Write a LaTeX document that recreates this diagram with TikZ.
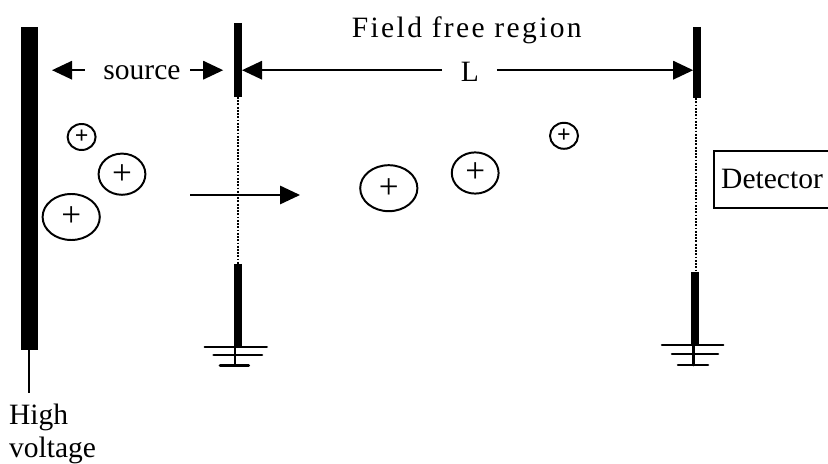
\documentclass[tikz,border=0pt]{standalone}
\usepackage{fontspec}
\setmainfont{Liberation Serif}
\usetikzlibrary{arrows.meta,calc,shapes.geometric}
\begin{document}
\begin{tikzpicture}[every node/.style={font=\fontsize{21}{23}\selectfont}, >={Triangle[length=5mm,width=4.6mm]},
	plate/.style={line width=5.8pt}, gnd/.style={line width=1.8pt, line cap=round}, wire/.style={line width=1.3pt},
	ion/.style={draw, ellipse, line width=1.4pt, inner sep=0pt, minimum width=#1},
	smallion/.style={ion=0.7cm, minimum height=0.65cm, font=\fontsize{17}{17}\bfseries},
	midion/.style={ion=1.17cm, minimum height=1.03cm, font=\fontsize{25}{25}\selectfont},
	bigion/.style={ion=1.43cm, minimum height=1.15cm, font=\fontsize{25}{25}\selectfont}]
	\useasboundingbox (0,0) rectangle (20.7,11.575);
	% high voltage plate
	\fill (0.52,2.825) rectangle (0.95,10.9);
	\coordinate (HVfoot) at (0.725,2.825);
	\coordinate (HVend) at (0.725,1.75);
	\draw[wire] (HVfoot) -- (HVend);
	\node[anchor=north west, align=left, inner sep=0pt] (HV) at (0.22,1.47) {High\\voltage};
	% source grid
	\draw[plate] (5.95,11.0) -- (5.95,9.15);
	\draw[wire, densely dotted] (5.95,9.15) -- (5.95,4.98);
	\draw[plate] (5.95,4.98) -- (5.95,2.9);
	\draw[gnd] (5.12,2.9) -- (6.67,2.9);
	\draw[gnd] (5.34,2.7) -- (6.55,2.7);
	\draw[gnd] (5.5,2.44) -- (6.22,2.44);
	\draw[gnd] (5.88,2.9) -- (5.88,2.44);
	% detector grid
	\draw[plate] (17.42,10.9) -- (17.42,9.12);
	\draw[wire, densely dotted] (17.4,9.12) -- (17.4,4.78);
	\draw[plate] (17.38,4.78) -- (17.38,2.95);
	\draw[gnd] (16.55,2.95) -- (18.08,2.95);
	\draw[gnd] (16.8,2.72) -- (17.95,2.72);
	\draw[gnd] (16.95,2.45) -- (17.7,2.45);
	\draw[gnd] (17.34,2.95) -- (17.34,2.45);
	% labels and spans
	\node (source) at (3.55,9.77) {source};
	\node (L) at (11.75,9.77) {L};
	\node (field) at (11.67,10.82) {\addfontfeature{LetterSpace=8}Field free region};
	\coordinate (srcL) at (1.3,9.82);
	\coordinate (srcLe) at (2.12,9.82);
	\coordinate (srcR) at (4.75,9.82);
	\coordinate (srcRe) at (5.58,9.82);
	\coordinate (lenL) at (6.05,9.82);
	\coordinate (lenLe) at (11.05,9.82);
	\coordinate (lenR) at (12.42,9.82);
	\coordinate (lenRe) at (17.33,9.82);
	\draw[->, wire] (srcLe) -- (srcL);
	\draw[->, wire] (srcR) -- (srcRe);
	\draw[->, wire] (lenLe) -- (lenL);
	\draw[->, wire] (lenR) -- (lenRe);
	% ions
	\node[smallion] (ionA) at (2.04,8.15) {+};
	\node[midion] (ionB) at (3.05,7.22) {+};
	\node[bigion] (ionC) at (1.78,6.15) {+};
	\node[bigion] (ionD) at (9.72,6.87) {+};
	\node[midion] (ionE) at (11.88,7.25) {+};
	\node[smallion] (ionF) at (14.1,8.18) {+};
	\coordinate (driftA) at (4.75,6.7);
	\coordinate (driftB) at (7.5,6.7);
	\draw[->, wire] (driftA) -- (driftB);
	% detector
	\node[draw, line width=1.1pt, minimum width=2.9cm, minimum height=1.42cm, inner sep=0pt] (det) at (19.3,7.09) {Detector};
\end{tikzpicture}
\end{document}
